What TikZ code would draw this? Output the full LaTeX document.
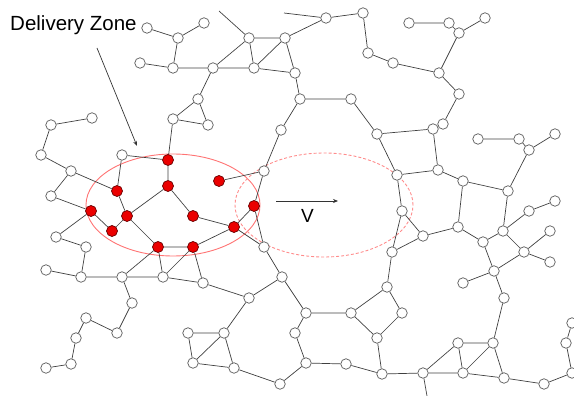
\documentclass[tikz,border=0pt]{standalone}
\usepackage{fontspec}
\setmainfont{Liberation Sans}
\usetikzlibrary{arrows.meta}
\begin{document}
\begin{tikzpicture}[x=1pt,y=-1pt,
 wn/.style={circle,draw=black!65,fill=white,line width=0.7pt,minimum size=10.5pt,inner sep=0pt},
 rn/.style={circle,draw=black!60!red,fill=red!92!black,line width=0.7pt,minimum size=11pt,inner sep=0pt},
 ed/.style={draw=black!75,line width=0.7pt},
 zone/.style={draw=red!55!white,line width=0.9pt},
 dzone/.style={draw=red!45!white,line width=0.9pt,dash pattern=on 3pt off 2pt},
 lbl/.style={font=\fontsize{20.5}{24}\selectfont,inner sep=0pt},
 ptr/.style={draw=black!80,line width=0.7pt,-{Stealth[length=5pt,width=4pt]}}]
\useasboundingbox (0,0) rectangle (574,396);
% zones
\draw[zone] (173,205) ellipse [x radius=87pt, y radius=51pt];
\draw[dzone] (324,205) ellipse [x radius=89pt, y radius=52pt];
% white nodes
\foreach \n/\x/\y in {A1/147/28,A2/178/38,A3/204/23,A4/140/63,A5/173/68,A6/213/68,A7/249/38,A8/285/38,A9/254/68,A10/198/99,A11/173/119,A12/208/125,
 B1/326/18,B2/363/13,B3/409/23,B4/368/53,B5/393/63,B6/295/73,B7/300/99,B8/351/99,B9/281/130,B10/377/134,
 C1/449/23,C2/485/18,C3/459/33,C4/439/73,C5/459/94,C6/443/124,C7/433/129,C8/478/139,C9/519/139,C10/555/134,C11/529/150,
 C12/438/170,C13/463/181,C14/508/191,C15/555/201,C16/529/211,C17/458/227,C18/503/231,C19/550/231,C20/483/242,C21/524/252,
 C22/550/262,C23/494/271,C24/463/283,C25/504/298,C26/458/343,C27/493/343,C28/566/343,C29/572/323,C30/423/373,C31/463/373,
 C32/504/378,C33/544/384,C34/572/373,
 D1/397/175,D2/402/211,D3/423/236,D4/392/252,D5/387/287,D6/351/313,D7/402/313,D8/377/338,D9/306/313,D10/295/333,
 D11/306/363,D12/346/364,D13/382/374,D15/280/384,D16/282/277,D17/264/171,D18/264/247,
 E1/163/277,E2/203/283,E3/249/298,E4/224/333,E5/188/333,E6/193/363,E7/234/368,
 L1/41/155,L2/122/155,L3/71/171,L4/51/196,L5/56/237,L6/86/247,L7/46/270,L8/81/277,L9/122/277,L10/132/303,
 L11/117/333,L12/86/318,L13/76/338,L14/71/364,L15/46/368,L16/51/125,L17/92/118}
 {\node[wn] (\n) at (\x,\y) {};}
% red nodes
\foreach \n/\x/\y in {R1/168/160,R2/168/186,R3/219/181,R4/193/216,R5/234/227,R6/254/206,R7/158/247,R8/193/247,
 R9/117/191,R10/91/211,R11/127/216,R12/112/231}
 {\node[rn] (\n) at (\x,\y) {};}
% free ends
\coordinate (f1) at (219,11);
\coordinate (f2) at (284,13);
\coordinate (f3) at (427,396);
% edges
\draw[ed] (A1)--(A2) (A2)--(A3) (A2)--(A5) (A4)--(A5) (A5)--(A6) (A6)--(A7) (A6)--(A9) (A7)--(A9)
 (A7)--(A8) (A9)--(A8) (A9)--(B6) (A6)--(A10) (A10)--(A11) (A10)--(A12) (A11)--(A12) (A11)--(R1)
 (f1)--(A7) (f2)--(B1)
 (B1)--(B2) (B1)--(A8) (B2)--(B4) (B4)--(B5) (B5)--(C4) (B3)--(C1) (C1)--(C3) (C3)--(C2) (C3)--(C4)
 (A8)--(B6) (B6)--(B7) (B7)--(B8) (B7)--(B9) (B8)--(B10) (B10)--(C7) (C4)--(C5) (C5)--(C6) (C6)--(C7) (C7)--(C12)
 (C8)--(C9) (C9)--(C11) (C11)--(C10) (C11)--(C14) (C12)--(C13) (C13)--(C14) (C12)--(D1) (C13)--(C17) (C14)--(C18)
 (D3)--(C17) (C17)--(C20) (C20)--(C18) (C18)--(C16) (C16)--(C15) (C18)--(C21) (C21)--(C19) (C21)--(C22)
 (C20)--(C23) (C23)--(C21) (C24)--(C23) (C23)--(C25) (C25)--(C27) (C26)--(C27) (C26)--(C30) (C26)--(C31)
 (C27)--(C31) (C27)--(C32) (C31)--(C30) (C31)--(C32) (C32)--(C33) (C33)--(C34) (C34)--(C28) (C28)--(C29) (C30)--(f3)
 (D1)--(B10) (D1)--(D2) (D2)--(D3) (D2)--(D4) (D4)--(D3) (D4)--(D5) (D5)--(D7) (D5)--(D6) (D7)--(D8) (D6)--(D8)
 (D8)--(D13) (D6)--(D9) (D9)--(D16) (D9)--(D10) (D10)--(D11) (D11)--(D12) (D11)--(D15) (D12)--(D13) (D13)--(C30)
 (E7)--(D15) (E3)--(D16) (D16)--(D18)
 (B9)--(D17) (D17)--(R3) (D17)--(R6) (R6)--(R5) (R6)--(D18) (R5)--(D18) (R5)--(R4) (R5)--(R8) (R4)--(R2)
 (R2)--(R1) (R2)--(R11) (R1)--(L2) (L2)--(R9) (R9)--(R11) (R9)--(L3) (L3)--(L1) (L1)--(L16) (L16)--(L17)
 (L3)--(L4) (L4)--(R10) (R10)--(R12) (R11)--(R12) (R10)--(L5) (L5)--(L6) (L6)--(L8) (R11)--(R7)
 (R7)--(R8) (R7)--(E1) (R8)--(E1) (R8)--(E2) (L9)--(R7)
 (L8)--(L7) (L8)--(L9) (L9)--(E1) (L9)--(L10) (L10)--(L11) (L11)--(L12) (L12)--(L13) (L13)--(L14) (L14)--(L15)
 (E1)--(E2) (E2)--(E3) (E3)--(E4) (E5)--(E4) (E5)--(E6) (E6)--(E4) (E4)--(E7) (E6)--(E7);
% labels and arrows
\node[lbl,anchor=base west] (dz) at (10,30.5) {Delivery Zone};
\coordinate (p1) at (97,48);
\coordinate (p2) at (137,146);
\draw[ptr] (p1)--(p2);
\coordinate (v1) at (276,201);
\coordinate (v2) at (338,201);
\draw[ptr] (v1)--(v2);
\node[font=\fontsize{19}{22}\selectfont,inner sep=0pt,anchor=base] (vl) at (307.5,222.5) {V};
\end{tikzpicture}
\end{document}
